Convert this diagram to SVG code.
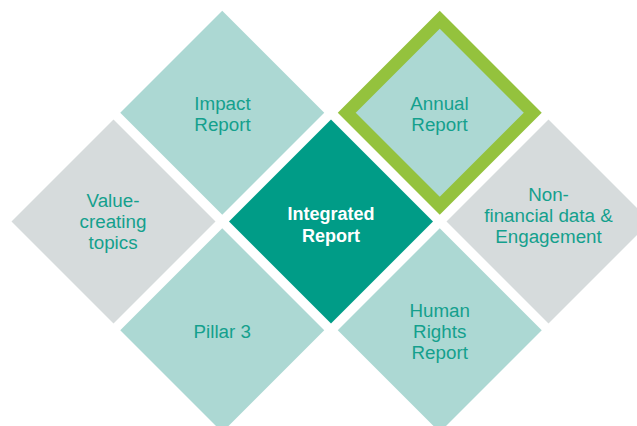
<svg xmlns="http://www.w3.org/2000/svg" xmlns:xlink="http://www.w3.org/1999/xlink" width="637" height="426" viewBox="0 0 637 426">
<style>
.light{fill:#acd8d3}
.grey{fill:#d6dbdc}
.dark{fill:#009c87}
.ring{fill:#acd8d3;stroke:#94c23d;stroke-width:12.7;stroke-linejoin:miter}
text{font-family:"Liberation Sans",Arial,Helvetica,sans-serif;font-size:18.8px;fill:#14a08d;text-anchor:middle}
text.bold{font-weight:bold;font-size:18px;fill:#ffffff}
</style>
<defs>
<polygon id="d" points="0,-102 102,0 0,102 -102,0"/>
<polygon id="r" points="0,-93 93,0 0,93 -93,0"/>
</defs>
<rect width="637" height="426" fill="#ffffff"/>
<g id="impact-report">
<use xlink:href="#d" class="light" transform="translate(222.25,112.75)"/>
<text x="222.5" y="109.5">Impact</text>
<text x="222.5" y="130.5">Report</text>
</g>
<g id="annual-report">
<use xlink:href="#r" class="ring" transform="translate(439.75,112.75)"/>
<text x="439.5" y="109.5">Annual</text>
<text x="439.5" y="130.5">Report</text>
</g>
<g id="value-creating-topics">
<use xlink:href="#d" class="grey" transform="translate(113.5,221.5)"/>
<text x="113" y="206.5">Value-</text>
<text x="113" y="227.5">creating</text>
<text x="113" y="248.5">topics</text>
</g>
<g id="integrated-report">
<use xlink:href="#d" class="dark" transform="translate(331,221.5)"/>
<text class="bold" x="331" y="220">Integrated</text>
<text class="bold" x="331" y="241.5">Report</text>
</g>
<g id="non-financial-data">
<use xlink:href="#d" class="grey" transform="translate(548.5,221.5)"/>
<text x="548.5" y="201">Non-</text>
<text x="548.5" y="222">financial data &amp;</text>
<text x="548.5" y="243">Engagement</text>
</g>
<g id="pillar-3">
<use xlink:href="#d" class="light" transform="translate(222.25,330.25)"/>
<text x="222.3" y="337.5">Pillar 3</text>
</g>
<g id="human-rights-report">
<use xlink:href="#d" class="light" transform="translate(439.75,330.25)"/>
<text x="439.7" y="316.5">Human</text>
<text x="439.7" y="337.5">Rights</text>
<text x="439.7" y="358.5">Report</text>
</g>
</svg>
